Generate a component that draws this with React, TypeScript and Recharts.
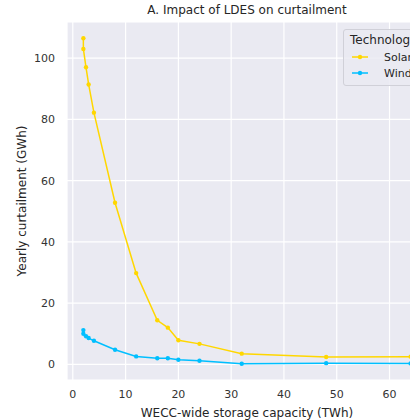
import { LineChart, Line, XAxis, YAxis, CartesianGrid, Legend } from "recharts"

// storage capacity (TWh) shared by both technologies
const capacity = [2, 2, 2.5, 3, 4, 8, 12, 16, 18, 20, 24, 32, 48, 64]
const solar = [106.5, 103, 97, 91.4, 82.2, 52.8, 29.8, 14.4, 12.0, 7.9, 6.7, 3.5, 2.4, 2.5]
const wind = [11.2, 10.0, 9.2, 8.6, 7.7, 4.8, 2.6, 2.0, 2.0, 1.5, 1.2, 0.2, 0.4, 0.3]

const xTicks = [0, 10, 20, 30, 40, 50, 60]
const yTicks = [0, 20, 40, 60, 80, 100]

const series = [
  { key: "solar", name: "Solar", color: "#FFD700" },
  { key: "wind", name: "Wind", color: "#00BFFF" },
]

const data = capacity.map((c, i) => ({ capacity: c, solar: solar[i], wind: wind[i] }))

const FONT = "'DejaVu Sans', sans-serif"
const TEXT = "#262626"

const TechLegend = () => (
  <div
    style={{
      background: "rgba(234,234,242,0.85)",
      border: "1px solid #d0d0d8",
      borderRadius: 3,
      padding: "3px 6px 4px 6px",
      fontFamily: FONT,
      color: TEXT,
      width: 90,
      boxSizing: "border-box",
    }}
  >
    <div style={{ fontSize: 12, lineHeight: "15px", marginBottom: 1 }}>Technology</div>
    {series.map((s) => (
      <div key={s.key} style={{ display: "flex", alignItems: "center", height: 16 }}>
        <svg width={18} height={8} style={{ marginLeft: 2, marginRight: 14 }}>
          <line x1={0} y1={4} x2={16} y2={4} stroke={s.color} strokeWidth={1.5} />
          <circle cx={8} cy={4} r={2.2} fill={s.color} />
        </svg>
        <span style={{ fontSize: 11 }}>{s.name}</span>
      </div>
    ))}
  </div>
)

export default function App() {
  return (
    <div
      style={{
        position: "absolute",
        left: 0,
        top: 0,
        width: 410,
        height: 420,
        overflow: "hidden",
        background: "#fff",
        fontFamily: FONT,
      }}
    >
      <div
        style={{
          position: "absolute",
          left: 67,
          top: 3,
          width: 360,
          textAlign: "center",
          fontSize: 12,
          color: TEXT,
          whiteSpace: "nowrap",
        }}
      >
        A. Impact of LDES on curtailment
      </div>
      <LineChart
        width={440}
        height={420}
        data={data}
        margin={{ top: 22, right: 13, bottom: 0, left: 0 }}
      >
        <CartesianGrid fill="#EAEAF2" stroke="#ffffff" strokeWidth={1.2} />
        <XAxis
          dataKey="capacity"
          type="number"
          domain={[-1.1, 67.1]}
          ticks={xTicks}
          allowDataOverflow
          axisLine={false}
          tickLine={false}
          tickSize={0}
          tickMargin={10}
          height={40}
          tick={{ fontSize: 11, fill: "#333", fontFamily: FONT }}
          label={{
            value: "WECC-wide storage capacity (TWh)",
            position: "insideBottom",
            offset: 3,
            style: { fontSize: 12, fill: TEXT, fontFamily: FONT },
          }}
        />
        <YAxis
          type="number"
          domain={[-5.1, 111.8]}
          ticks={yTicks}
          allowDataOverflow
          axisLine={false}
          tickLine={false}
          tickSize={0}
          tickMargin={12}
          width={67}
          tick={{ fontSize: 11, fill: "#333", fontFamily: FONT }}
          label={{
            value: "Yearly curtailment (GWh)",
            angle: -90,
            position: "center",
            dx: -12,
            style: { fontSize: 12, fill: TEXT, fontFamily: FONT, textAnchor: "middle" },
          }}
        />
        {series.map((s) => (
          <Line
            key={s.key}
            dataKey={s.key}
            name={s.name}
            stroke={s.color}
            strokeWidth={1.5}
            dot={{ r: 2.2, fill: s.color, stroke: s.color, strokeWidth: 0 }}
            activeDot={false}
            isAnimationActive={false}
          />
        ))}
        <Legend
          layout="horizontal"
          align="center"
          verticalAlign="middle"
          content={<TechLegend />}
          wrapperStyle={{ position: "absolute", left: 343, top: 29, width: 90 }}
        />
      </LineChart>
    </div>
  )
}
